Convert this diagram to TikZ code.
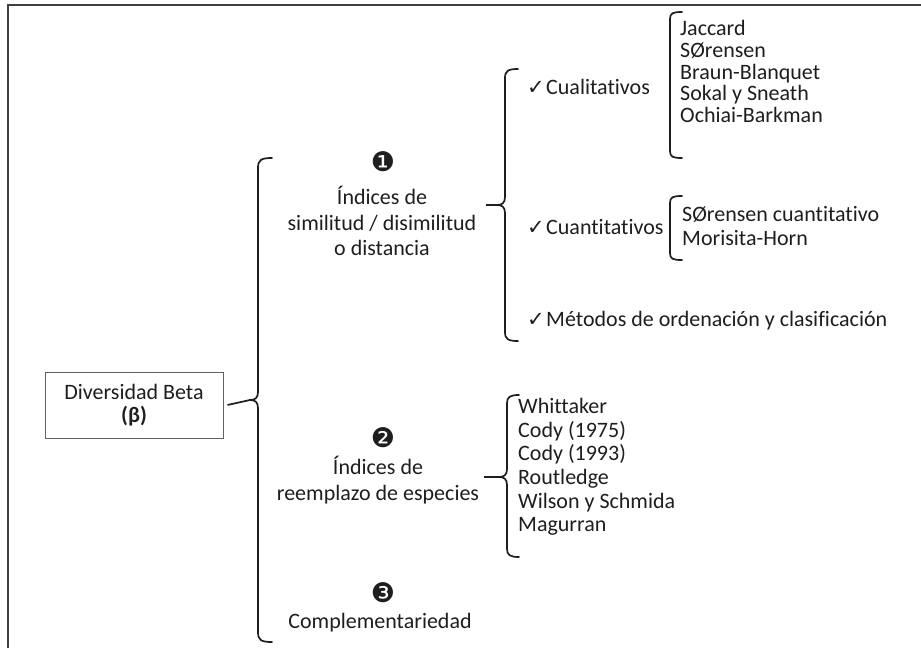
\documentclass[tikz,border=0pt]{standalone}
\usepackage{fontspec}
\setmainfont{Carlito}[Ligatures=NoCommon]
\newfontfamily\symfont{DejaVu Sans}
\definecolor{ink}{HTML}{1E1E1E}
\newcommand{\chk}{\makebox[19pt][l]{\symfont\fontsize{21}{21}\selectfont ✓}}
\begin{document}
\begin{tikzpicture}[x=1pt,y=-1pt,
  txt/.style={font=\fontsize{22}{22.5}\selectfont, text=ink, inner sep=0pt},
  num/.style={font=\symfont\fontsize{27}{27}\selectfont, text=ink, inner sep=0pt},
  brc/.style={line width=1.7pt, draw=ink, line cap=round},
  conn/.style={line width=1.7pt, draw=ink},
  frame/.style={line width=2pt, draw=ink!85}
]
\useasboundingbox (0,0) rectangle (921,648);
\draw[frame] (8,648) -- (8,5) -- (921,5);

% main box
\node[draw=ink!70, line width=1pt, minimum width=178pt, minimum height=66pt, inner sep=0pt,
      align=center, font=\fontsize{22}{23}\selectfont, text=ink] (box) at (134,405)
      {Diversidad Beta\\\textbf{(β)}};

% big brace
\coordinate (t1) at (250,400);
\draw[brc] (272,158) .. controls (261,158) and (258,160) .. (258,168) -- (258,392)
  .. controls (258,398) and (255,400) .. (t1);
\draw[brc] (272,642) .. controls (261,642) and (258,640) .. (258,632) -- (258,408)
  .. controls (258,402) and (255,400) .. (t1);
\draw[conn] ([xshift=4pt]box.east) -- (t1);

% item 1
\node[num] (n1) at (383,162) {❶};
\node[txt, align=center, font=\fontsize{22}{25.5}\selectfont] (i1) at (382,221) {Índices de\\similitud / disimilitud\\o distancia};
\coordinate (t2) at (497,205);
\draw[brc] (518,69) .. controls (508,69) and (505,71) .. (505,78) -- (505,197)
  .. controls (505,203) and (502,205) .. (t2);
\draw[brc] (518,341) .. controls (508,341) and (505,339) .. (505,332) -- (505,213)
  .. controls (505,207) and (502,205) .. (t2);
\draw[conn] ([xshift=9pt]i1.east |- t2) -- (t2);

% sub items
\node[txt, anchor=west] (q1) at (527,87) {\chk Cualitativos};
\node[txt, anchor=west] (q2) at (527,227) {\chk Cuantitativos};
\node[txt, anchor=west] (q3) at (527,321) {\chk Métodos de ordenación y clasificación};

% bracket qualitative
\draw[brc] (682,12) .. controls (673,12) and (670,13) .. (670,19) -- (670,151)
  .. controls (670,157) and (673,158) .. (682,158);
\node[txt, anchor=west, align=left, font=\fontsize{22}{21.8}\selectfont] (l1) at (680,71.5)
  {Jaccard\\SØrensen\\Braun-Blanquet\\Sokal y Sneath\\Ochiai-Barkman};

% bracket quantitative
\draw[brc] (682,196) .. controls (673,196) and (670,197) .. (670,203) -- (670,253)
  .. controls (670,259) and (673,260) .. (682,260);
\node[txt, anchor=west, align=left, font=\fontsize{22}{24.5}\selectfont] (l2) at (682,226)
  {SØrensen cuantitativo\\Morisita-Horn};

% item 2
\node[num] (n2) at (383,438) {❷};
\node[txt, align=center, font=\fontsize{22}{25.5}\selectfont] (i2) at (378,480) {Índices de\\reemplazo de especies};
\coordinate (t3) at (499,477);
\draw[brc] (519,395) .. controls (510,395) and (507,397) .. (507,403) -- (507,469)
  .. controls (507,475) and (504,477) .. (t3);
\draw[brc] (519,557) .. controls (510,557) and (507,555) .. (507,549) -- (507,485)
  .. controls (507,479) and (504,477) .. (t3);
\draw[conn] ([xshift=5pt]i2.east |- t3) -- (t3);
\node[txt, anchor=west, align=left, font=\fontsize{22}{23.6}\selectfont] (l3) at (518,467)
  {Whittaker\\Cody (1975)\\Cody (1993)\\Routledge\\Wilson y Schmida\\Magurran};

% item 3
\node[num] (n3) at (383,593) {❸};
\node[txt] (i3) at (380,623) {Complementariedad};
\end{tikzpicture}
\end{document}
